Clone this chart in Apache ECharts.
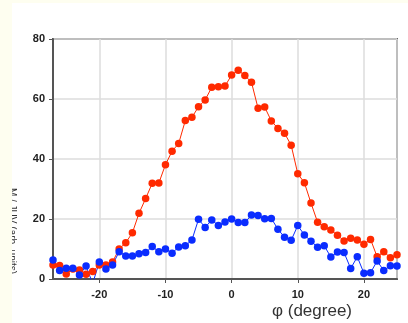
<!DOCTYPE html>
<html lang="en">
<head>
    <meta charset="UTF-8">
    <title>phi scan</title>
    <script src="https://cdn.jsdelivr.net/npm/echarts@6/dist/echarts.min.js"></script>
</head>
<body style="margin:0;width:408px;height:323px;background:#fefef0;overflow:hidden">

<div id="main" style="position:absolute;left:12px;top:3px;width:396px;height:320px;background:#fff;overflow:hidden"></div>

<script type="text/javascript">
    // angle in degrees, one point per degree
    var phi = [];
    for (var d = -27; d <= 25; d++) phi.push(d);

    var redValues = [
        4.7, 4.5, 1.7, 3.3, 3.0, 1.6, 2.5, 4.7, 4.7, 5.7,
        10.0, 12.1, 15.4, 21.9, 26.8, 31.9, 32.0, 38.1, 42.6, 45.2,
        52.8, 53.9, 57.4, 59.7, 63.9, 64.1, 64.3, 68.0, 69.6, 67.8,
        65.6, 56.9, 57.3, 52.7, 50.2, 48.6, 44.6, 35.1, 32.1, 25.3,
        18.9, 17.4, 16.3, 14.6, 12.7, 13.6, 13.0, 11.6, 13.2, 7.4,
        9.1, 7.1, 8.1
    ];
    var blueValues = [
        6.3, 2.8, 3.6, 3.6, 1.3, 4.3, -1.5, 5.7, 3.3, 4.7,
        9.1, 7.7, 7.7, 8.4, 8.8, 10.8, 9.1, 10.0, 8.6, 10.7,
        11.1, 13.0, 19.9, 17.2, 19.7, 17.8, 19.0, 20.0, 18.8, 18.8,
        21.3, 21.2, 20.1, 20.2, 16.6, 13.9, 12.9, 17.8, 14.7, 12.6,
        10.6, 11.1, 7.3, 9.0, 8.8, 3.5, 7.4, 1.9, 2.1, 6.0,
        2.8, 4.4, 4.3
    ];

    var xName = 'φ (degree)';
    var yName = 'M / JUV (arb. units)';

    function pairs(vals) {
        return phi.map(function (p, i) { return [p, vals[i]]; });
    }

    var myChart = echarts.init(document.getElementById('main'));

    var axisText = {
        color: '#222',
        fontFamily: 'Arial, "Liberation Sans", sans-serif',
        fontWeight: 'bold',
        fontSize: 11
    };

    myChart.setOption({
        animation: false,
        backgroundColor: '#fff',
        grid: {
            left: 41,
            top: 36,
            right: 11,
            bottom: 44,
            show: true,
            borderColor: '#666',
            borderWidth: 2
        },
        xAxis: {
            type: 'value',
            min: -27,
            max: 25,
            splitNumber: 5,
            axisLine: { onZero: false, lineStyle: { color: '#555', width: 2 } },
            axisTick: { show: true, length: 4, lineStyle: { color: '#555' } },
            axisLabel: Object.assign({ margin: 10, showMinLabel: false, showMaxLabel: false }, axisText),
            splitLine: { show: true, lineStyle: { color: '#ddd', width: 1.5 } }
        },
        yAxis: {
            type: 'value',
            min: 0,
            max: 80,
            interval: 20,
            axisLine: { show: true, onZero: false, lineStyle: { color: '#555', width: 2 } },
            axisTick: { show: true, length: 4, lineStyle: { color: '#555' } },
            axisLabel: Object.assign({ margin: 8 }, axisText),
            splitLine: { show: true, lineStyle: { color: '#ddd', width: 1.5 } }
        },
        graphic: [
            {
                type: 'text',
                x: 300,
                y: 308,
                style: {
                    text: xName,
                    fill: '#333',
                    font: '17px Arial, "Liberation Sans", sans-serif',
                    align: 'center',
                    verticalAlign: 'middle'
                }
            },
            {
                type: 'text',
                x: 0,
                y: 228,
                rotation: -Math.PI / 2,
                style: {
                    text: yName,
                    fill: '#333',
                    font: '10px Arial, "Liberation Sans", sans-serif',
                    align: 'center',
                    verticalAlign: 'middle'
                }
            }
        ],
        series: [
            {
                name: 'red',
                type: 'line',
                data: pairs(redValues),
                symbol: 'circle',
                symbolSize: 7.5,
                clip: true,
                itemStyle: { color: '#ff2a00' },
                lineStyle: { color: '#ff2a00', width: 1 }
            },
            {
                name: 'blue',
                type: 'line',
                data: pairs(blueValues),
                symbol: 'circle',
                symbolSize: 7.5,
                clip: true,
                itemStyle: { color: '#0a2cff' },
                lineStyle: { color: '#0a2cff', width: 1 }
            }
        ]
    });
</script>
</body>
</html>
